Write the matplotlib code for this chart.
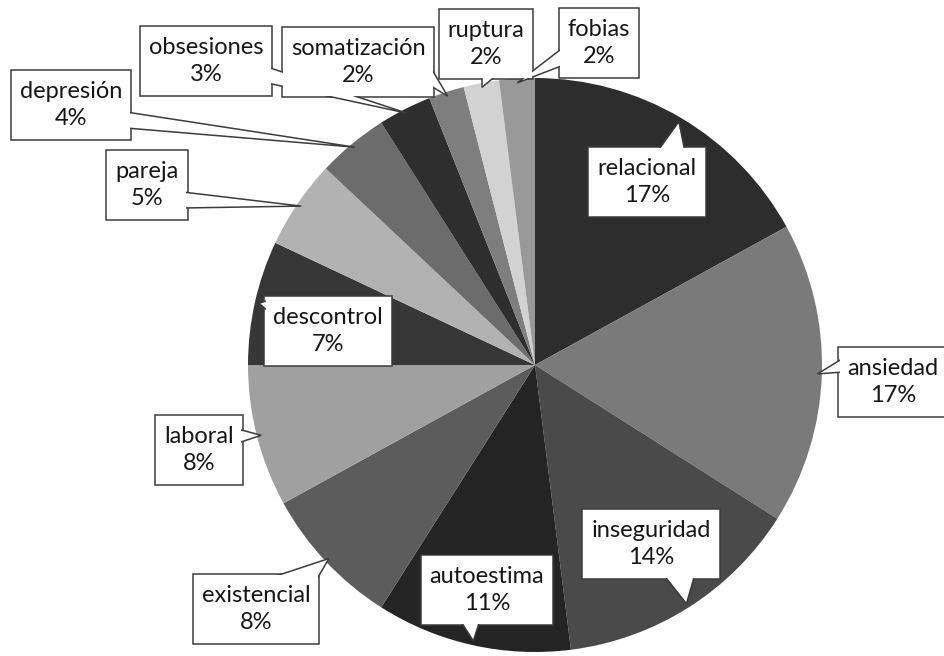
import matplotlib
matplotlib.use("Agg")
import matplotlib.pyplot as plt
from matplotlib.patches import Rectangle, Polygon
import numpy as np

# ---- data -------------------------------------------------------------
categories = ["relacional", "ansiedad", "inseguridad", "autoestima",
              "existencial", "laboral", "descontrol", "pareja",
              "depresión", "obsesiones", "somatización", "ruptura", "fobias"]
percentages = [17, 17, 14, 11, 8, 8, 7, 5, 4, 3, 2, 2, 2]
slice_colors = ["#2d2d2d", "#7a7a7a", "#4a4a4a", "#242424", "#5c5c5c",
                "#a0a0a0", "#373737", "#b2b2b2", "#6c6c6c", "#2e2e2e",
                "#7e7e7e", "#d2d2d2", "#999999"]

# ---- layout (pixel positions measured from the top-left corner) --------
W, H = 945, 656
PIE_CENTER = (535, 365)
PIE_RADIUS = 287
BOX_H = 70
PAD_X = 9

# box centre, side of the box carrying the pointer, pointer anchor
# position along that side, pointer half-width
callouts = {
    "relacional":   ((647, 182), "top",    671, 14),
    "ansiedad":     ((893, 382), "left",   365, 7),
    "inseguridad":  ((651, 544), "bottom", 679, 16),
    "autoestima":   ((487, 590), "bottom", 470, 10),
    "existencial":  ((256, 609), "top",    292, 25),
    "laboral":      ((199, 450), "right",  436, 7),
    "descontrol":   ((328, 331), "left",   306, 6),
    "pareja":       ((147, 185), "right",  200, 8),
    "depresión":    ((71, 105),  "right",  120, 8),
    "obsesiones":   ((206, 61),  "right",  75, 8),
    "somatización": ((358, 62),  "right",  75, 10),
    "ruptura":      ((486, 44),  "bottom", 490, 8),
    "fobias":       ((599, 43),  "left",   56, 9),
}

FONT = ["Lato", "DejaVu Sans"]
FONT_SIZE = 17
EDGE = "#3c3c3c"


def flip(y):
    return H - y


fig = plt.figure(figsize=(W / 100, H / 100), dpi=100)
ax = fig.add_axes([0, 0, 1, 1])

wedges, _ = ax.pie(percentages, colors=slice_colors, startangle=90,
                   counterclock=False,
                   center=(PIE_CENTER[0], flip(PIE_CENTER[1])),
                   radius=PIE_RADIUS, wedgeprops=dict(linewidth=0))
ax.set_xlim(0, W)
ax.set_ylim(0, H)
ax.set_aspect("auto")
ax.axis("off")

# labels first, so their size can be measured
texts = {}
for name, pct in zip(categories, percentages):
    (cx, cy), _, _, _ = callouts[name]
    texts[name] = ax.text(cx, flip(cy), f"{name}\n{pct}%", ha="center",
                          va="center", fontsize=FONT_SIZE, family=FONT,
                          color="#161616", linespacing=1.32, zorder=6)

fig.canvas.draw()
renderer = fig.canvas.get_renderer()
inv = ax.transData.inverted()

for name, wedge in zip(categories, wedges):
    (cx, cy), side, along, hw = callouts[name]
    cy = flip(cy)
    ext = texts[name].get_window_extent(renderer)
    (x0, _), (x1, _) = inv.transform([[ext.x0, ext.y0], [ext.x1, ext.y1]])
    bw = (x1 - x0) + 2 * PAD_X
    left, right = cx - bw / 2, cx + bw / 2
    bottom, top = cy - BOX_H / 2, cy + BOX_H / 2

    # framed box
    ax.add_patch(Rectangle((left, bottom), bw, BOX_H, facecolor="white",
                           edgecolor=EDGE, linewidth=1.1, zorder=3))

    # pointer from the box side to the slice
    theta = np.deg2rad((wedge.theta1 + wedge.theta2) / 2)
    tip = (wedge.center[0] + 0.985 * wedge.r * np.cos(theta),
           wedge.center[1] + 0.985 * wedge.r * np.sin(theta))
    inset = 5
    if side == "top":
        y = top - inset
        base = [(along - hw, y), (along + hw, y)]
    elif side == "bottom":
        y = bottom + inset
        base = [(along - hw, y), (along + hw, y)]
    elif side == "left":
        x = left + inset
        base = [(x, flip(along) + hw), (x, flip(along) - hw)]
    else:
        x = right - inset
        base = [(x, flip(along) + hw), (x, flip(along) - hw)]
    ax.add_patch(Polygon([base[0], tip, base[1]], closed=True,
                         facecolor="white", edgecolor=EDGE, linewidth=1.1,
                         joinstyle="miter", zorder=4))

    # white cover that hides the pointer's base inside the box
    c = 1.4
    ax.add_patch(Rectangle((left + c, bottom + c), bw - 2 * c, BOX_H - 2 * c,
                           facecolor="white", edgecolor="none", zorder=5))

fig.savefig("out.png", dpi=100, facecolor="white")
